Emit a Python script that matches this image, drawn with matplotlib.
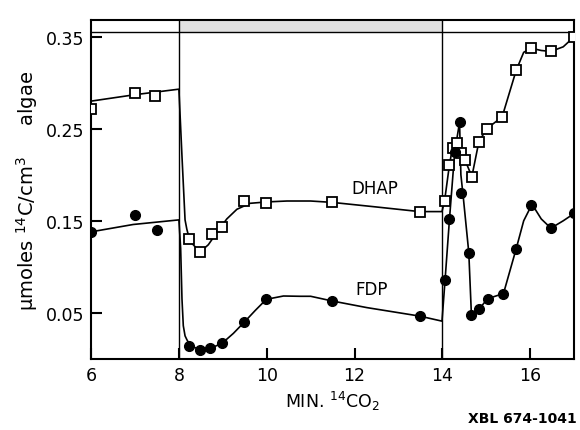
import matplotlib
matplotlib.use("Agg")
import matplotlib.pyplot as plt

# ---- data ----
dhap_x = [6.0, 7.0, 7.46, 8.23, 8.48, 8.75, 8.98, 9.49, 9.99, 11.49, 13.48, 14.05,
          14.16, 14.23, 14.33, 14.43, 14.51, 14.67, 14.83, 15.01, 15.36, 15.68,
          16.02, 16.47, 17.0]
dhap_y = [0.271, 0.289, 0.286, 0.130, 0.1165, 0.136, 0.143, 0.1715, 0.169, 0.170,
          0.160, 0.172, 0.211, 0.2295, 0.234, 0.224, 0.2165, 0.198, 0.236, 0.250,
          0.263, 0.3136, 0.3375, 0.334, 0.350]

fdp_x = [6.0, 7.0, 7.5, 8.23, 8.48, 8.71, 8.98, 9.49, 9.99, 11.48, 13.48, 14.06,
         14.16, 14.28, 14.39, 14.42, 14.60, 14.66, 14.84, 15.03, 15.39, 15.68,
         16.02, 16.47, 17.0]
fdp_y = [0.138, 0.156, 0.140, 0.014, 0.0096, 0.0114, 0.0168, 0.040, 0.0647, 0.063,
         0.0465, 0.0857, 0.1516, 0.225, 0.257, 0.180, 0.1155, 0.0476, 0.0545,
         0.0654, 0.071, 0.1198, 0.167, 0.142, 0.158]

# hand-drawn fitted curves (knots)
dhap_curve_x = [6.0, 7.0, 7.5, 8.0, 8.07, 8.14, 8.18, 8.25, 8.48, 8.67, 8.86, 9.09,
                9.32, 9.62, 10.0, 10.46, 11.0, 11.49, 12.5, 13.48, 13.99, 14.05,
                14.16, 14.23, 14.33, 14.43, 14.51, 14.67, 14.83, 15.01, 15.36,
                15.68, 15.85, 16.02, 16.25, 16.47, 16.75, 17.0]
dhap_curve_y = [0.280, 0.287, 0.290, 0.293, 0.220, 0.151, 0.141, 0.128, 0.116,
                0.124, 0.137, 0.152, 0.1625, 0.169, 0.1705, 0.1715, 0.1715, 0.170,
                0.165, 0.160, 0.160, 0.172, 0.211, 0.2295, 0.234, 0.224, 0.2165,
                0.198, 0.236, 0.250, 0.263, 0.3136, 0.333, 0.3375, 0.335, 0.334,
                0.339, 0.350]

fdp_curve_x = [6.0, 6.96, 8.0, 8.04, 8.07, 8.10, 8.14, 8.18, 8.25, 8.48, 8.71,
               8.98, 9.24, 9.49, 9.74, 9.99, 10.38, 10.76, 11.0, 11.48, 12.28,
               13.48, 13.99, 14.06, 14.16, 14.28, 14.39, 14.42, 14.48, 14.60,
               14.66, 14.84, 15.03, 15.39, 15.68, 15.85, 16.04, 16.25, 16.47,
               16.75, 17.0]
fdp_curve_y = [0.138, 0.146, 0.151, 0.120, 0.065, 0.036, 0.025, 0.021, 0.015,
               0.0096, 0.0114, 0.0168, 0.0277, 0.040, 0.0527, 0.0647, 0.0683,
               0.068, 0.068, 0.063, 0.0557, 0.0465, 0.041, 0.0857, 0.1516, 0.225,
               0.257, 0.200, 0.173, 0.1155, 0.0476, 0.0545, 0.0654, 0.071, 0.1198,
               0.150, 0.168, 0.152, 0.142, 0.150, 0.158]

x_ticks = [6, 8, 10, 12, 14, 16]
y_ticks = [0.05, 0.15, 0.25, 0.35]
y_tick_labels = ["0.05", "0.15", "0.25", "0.35"]
period_edges = [8, 14]
band_low, band_high = 0.355, 0.368

plt.rcParams['font.family'] = ['DejaVu Sans']

fig = plt.figure(figsize=(5.8, 4.31), dpi=100)
ax = fig.add_axes([0.157, 0.165, 0.833, 0.786])

ax.plot(dhap_curve_x, dhap_curve_y, color='black', lw=1.2, zorder=2)
ax.plot(fdp_curve_x, fdp_curve_y, color='black', lw=1.2, zorder=2)
ax.plot(dhap_x, dhap_y, linestyle='none', marker='s', markersize=7,
        markerfacecolor='white', markeredgecolor='black', markeredgewidth=1.3, zorder=3)
ax.plot(fdp_x, fdp_y, linestyle='none', marker='o', markersize=7,
        markerfacecolor='black', markeredgecolor='black', zorder=3)

for xe in period_edges:
    ax.axvline(xe, color='black', lw=1.0, zorder=1)
ax.axhline(band_low, color='black', lw=1.0, zorder=1)
ax.fill_between([period_edges[0], period_edges[1]], band_low, band_high,
                facecolor='#e0e0e0', edgecolor='none', zorder=0)

ax.set_xlim(6, 17)
ax.set_ylim(0, band_high)
ax.set_xticks(x_ticks)
ax.set_xticklabels([str(t) for t in x_ticks])
ax.set_yticks(y_ticks)
ax.set_yticklabels(y_tick_labels)
ax.tick_params(direction='in', length=8, width=1.5, labelsize=12.5, pad=5)
for s in ax.spines.values():
    s.set_linewidth(1.5)

ax.text(12.47, 0.186, "DHAP", fontsize=12, ha='center', va='center')
ax.text(12.39, 0.076, "FDP", fontsize=12, ha='center', va='center')

ax.set_xlabel(r"MIN. $^{14}\mathrm{CO}_2$", fontsize=12.5, labelpad=4)
ax.set_ylabel("\u03bcmoles " + r"$^{14}\mathrm{C/cm}^3$" + "     algae",
              fontsize=14, labelpad=4)

fig.text(0.995, 0.012, "XBL 674-1041", fontsize=10, fontweight='bold',
         ha='right', va='bottom')

fig.savefig("out.png", dpi=100)
